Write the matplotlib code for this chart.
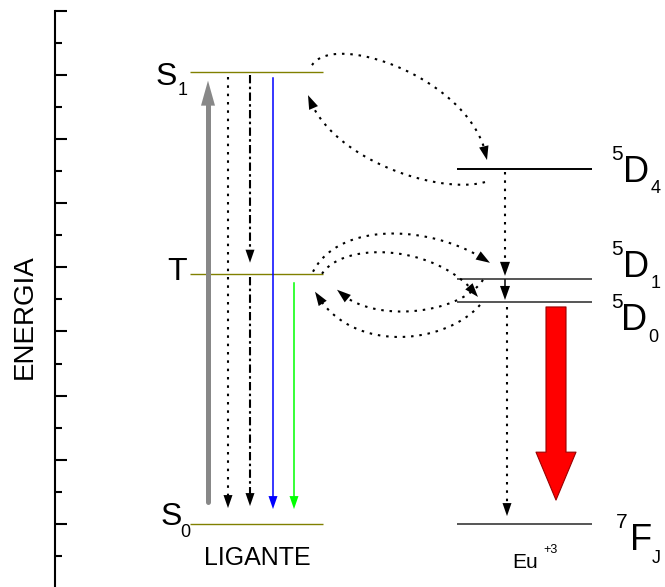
import numpy as np
import matplotlib
matplotlib.use("Agg")
import matplotlib.pyplot as plt
from matplotlib.patches import FancyArrowPatch, ArrowStyle
from matplotlib.ticker import MultipleLocator

plt.rcParams['font.family'] = ['Liberation Sans', 'DejaVu Sans']

# energy levels (arbitrary units, one major tick = 1)
ligand_levels = ["S1", "T", "S0"]
ligand_energy = [7.04, 3.90, 0.0]
eu_levels = ["5D4", "5D1", "5D0", "7FJ"]
eu_energy = [5.53, 3.82, 3.46, 0.0]
eu_colors = ["black", "#555555", "#555555", "#555555"]

E = dict(zip(ligand_levels + eu_levels, ligand_energy + eu_energy))

W, H = 665, 587
PX = 1 / 64.19          # one pixel in energy units

# vertical transitions: x, from, to, gap at start / end (px), colour, style, head size (len, half width)
decays = [
    (228, "S1", "S0", -5, 16, "black", "dotted", (13, 4.5)),
    (250, "S1", "T", -3, 11, "black", "dashdot", (13, 4.5)),
    (250, "T", "S0", -3, 18, "black", "dashdot", (13, 4.5)),
    (273, "S1", "S0", -6, 15, "blue", "solid", (13, 4.5)),
    (294, "T", "S0", -9, 15, "#00ff00", "solid", (13, 4.5)),
    (505, "5D4", "5D1", -3, 3, "black", "dotted", (14, 5)),
    (505, "5D1", "5D0", -1, 2, "black", "solid", (14, 5)),
    (507, "5D0", "7FJ", -5, 8, "black", "dotted", (13, 4.5)),
]

# energy transfer curves: from, to, start, ctrl1 (rel. from), ctrl2, end (rel. to) as (x px, dy px)
transfers = [
    ("S1", "5D4", (312, 7), (335, 42), (475, 89), (487, 9)),
    ("5D4", "S1", (485, -13), (440, -26), (330, -88), (308, -23)),
    ("T", "5D1", (313, 2), (340, 54), (435, 54), (490, 16)),
    ("T", "5D0", (322, 0), (345, 34), (440, 57), (478, 5)),
    ("5D1", "T", (483, -1), (460, -36), (370, -51), (337, -16)),
    ("5D0", "T", (480, -3), (445, -43), (350, -81), (315, -18)),
]

styles = {"dotted": (0, (1.2, 2.8)), "dashdot": (0, (4, 1.6, 1.2, 1.6)), "solid": "-"}

fig = plt.figure(figsize=(W / 100, H / 100), dpi=100)
ax = fig.add_axes([55 / W, 0, (W - 55) / W, (H - 10.5) / H])
ax.set_xlim(55, W)
ax.set_ylim(-0.98, 8.0)

for s in ["top", "right", "bottom"]:
    ax.spines[s].set_visible(False)
ax.spines["left"].set_linewidth(1.5)
ax.yaxis.set_major_locator(MultipleLocator(1))
ax.yaxis.set_minor_locator(MultipleLocator(0.5))
ax.tick_params(axis="y", which="both", direction="in", width=1.5, labelleft=False)
ax.tick_params(axis="y", which="major", length=8.6)
ax.tick_params(axis="y", which="minor", length=5)
ax.set_xticks([])


def head(tip, back, length, half, color):
    # filled triangle; tip/back given as (x px, y energy); geometry done in pixels
    tx, ty = tip[0], tip[1] / PX
    dx, dy = tx - back[0], ty - back[1] / PX
    n = np.hypot(dx, dy)
    ux, uy = dx / n, dy / n
    bx, by = tx - ux * length, ty - uy * length
    xs = [tx, bx - uy * half, bx + uy * half]
    ys = [ty, by + ux * half, by - ux * half]
    ax.fill(xs, np.array(ys) * PX, color=color, lw=0, zorder=3)


# levels
ax.hlines(ligand_energy, 190, 323, color="#808000", lw=1.0)
ax.hlines(eu_energy, 457, 592, color=eu_colors, lw=1.4)

# excitation (thick grey)
y0 = E["S0"] + 22.5 * PX
tip = E["S1"] - 8.5 * PX
ax.plot([208, 208], [y0, tip - 20 * PX], color="#888888", lw=3.6, solid_capstyle="round")
head((208, tip), (208, y0), 25, 7, "#888888")

for x, a, b, ga, gb, c, ls, (hl, hw) in decays:
    ya = E[a] + ga * PX
    yb = E[b] + gb * PX
    sgn = np.sign(yb - ya)
    ax.plot([x, x], [ya, yb - sgn * hl * 0.6 * PX], color=c, lw=1.5 if ls != "solid" else 1.1,
            linestyle=styles[ls], dash_capstyle="butt")
    head((x, yb), (x, ya), hl, hw, c)

# Eu emission (big red arrow)
ax.add_patch(FancyArrowPatch((556, E["5D0"] - 5 * PX), (556, E["7FJ"] + 24 * PX), mutation_scale=1,
                             shrinkA=0, shrinkB=0,
                             arrowstyle=ArrowStyle("simple", head_length=34.5, head_width=28.8, tail_width=14.4),
                             facecolor="red", edgecolor="#990000", lw=0.8))

t = np.linspace(0, 1, 400)[:, None]
for a, b, p0, p1, p2, p3 in transfers:
    P = np.array([(p0[0], E[a] / PX + p0[1]), (p1[0], E[a] / PX + p1[1]),
                  (p2[0], E[b] / PX + p2[1]), (p3[0], E[b] / PX + p3[1])])
    pts = ((1 - t) ** 3 * P[0] + 3 * (1 - t) ** 2 * t * P[1]
           + 3 * (1 - t) * t ** 2 * P[2] + t ** 3 * P[3])
    dist = np.hypot(pts[:, 0] - P[3, 0], pts[:, 1] - P[3, 1])
    keep = pts[dist > 8]
    ax.plot(keep[:, 0], keep[:, 1] * PX, color="black", lw=1.5, linestyle=styles["dotted"])
    back = pts[np.argmin(np.abs(dist - 13))]
    head((P[3, 0], P[3, 1] * PX), (back[0], back[1] * PX), 14, 4.8, "black")


def label(x, y, s, size, ha="left"):
    fig.text(x / W, 1 - y / H, s, fontsize=size, ha=ha, va="baseline")


fig.text(25 / W, 1 - 317 / H, "ENERGIA", rotation=90, fontsize=20, ha="center", va="center")

label(177, 85, "S", 23, "right")
label(178, 95, "1", 13)
label(187, 280, "T", 23, "right")
label(182, 525, "S", 23, "right")
label(180, 537, "0", 13)
label(257, 565, "LIGANTE", 18, "center")

label(611, 160, "5", 15); label(623, 182, "D", 26); label(651, 193, "4", 13)
label(611, 255, "5", 15); label(623, 277, "D", 26); label(651, 288, "1", 13)
label(611, 308, "5", 15); label(621, 330, "D", 26); label(648, 342, "0", 13)
label(616, 528, "7", 15); label(630, 550, "F", 26); label(652, 563, "J", 13)
label(512, 568, "Eu", 15)
label(543, 553, "+3", 9)

fig.savefig("out.png", dpi=100)
